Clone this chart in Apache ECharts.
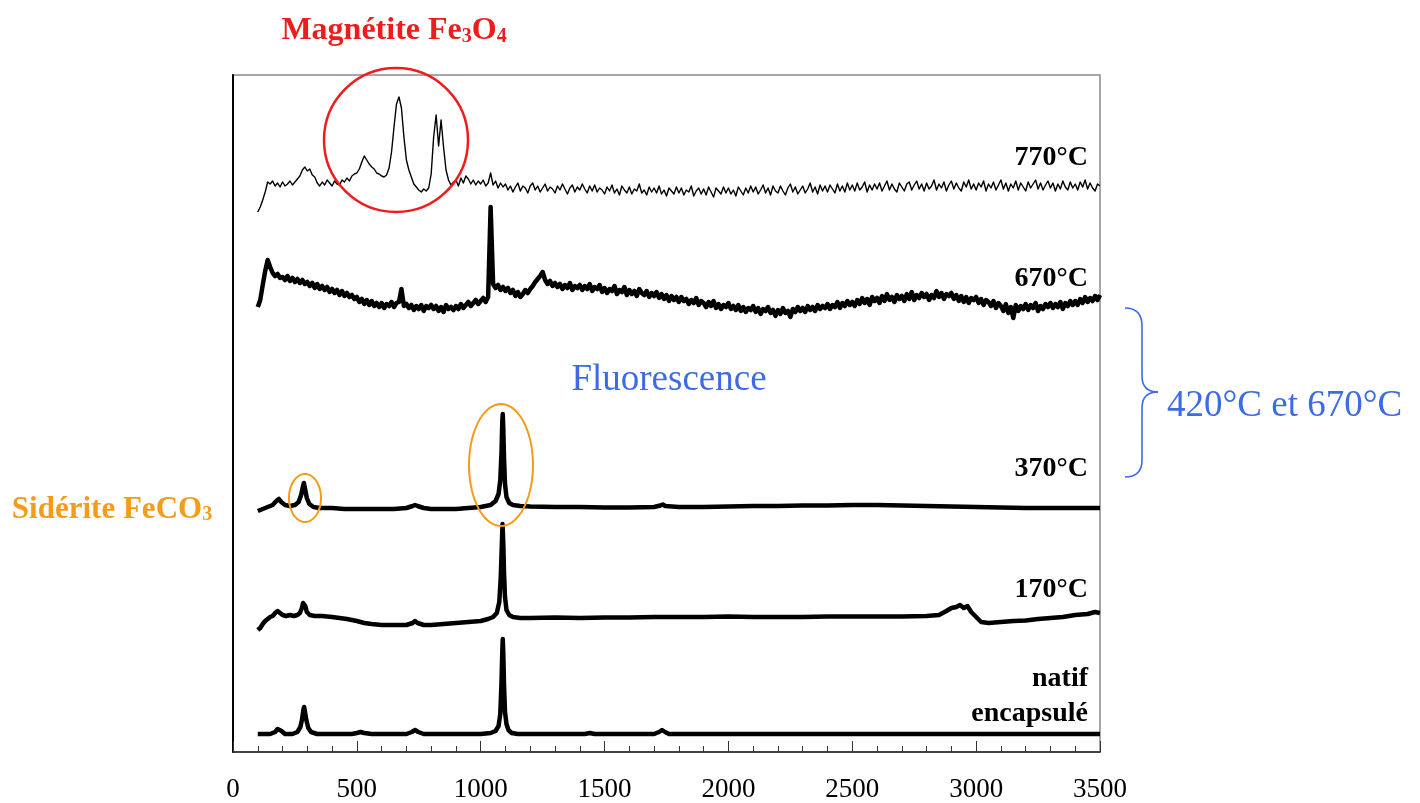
<!DOCTYPE html>
<html>
<head>
<meta charset="utf-8">
<script src="https://cdn.jsdelivr.net/npm/echarts@6/dist/echarts.min.js"></script>
<style>
html,body{margin:0;padding:0;background:#fff;}
#chart{width:1420px;height:803px;}
</style>
</head>
<body>
<div id="chart"></div>
<script>
// Raman shift axis (cm-1)
const xTicks = [0, 500, 1000, 1500, 2000, 2500, 3000, 3500];
const noisyStart = 100;   // first Raman shift of the noisy spectra
const noisyStep = 10;     // sampling step of the noisy spectra

// Stacked intensities (arbitrary units, offset per spectrum)
const spectrum770 = [
  540,545,552,560,570,568,571,566,569,565,
  570,566,568,571,567,570,573,576,582,585,
  581,583,577,575,569,566,570,567,572,569,
  566,571,568,567,572,570,574,571,576,578,
  579,583,590,596,592,588,585,583,579,578,
  576,575,577,584,600,625,648,655,644,615,
  592,582,575,568,565,562,560,563,561,564,
  578,615,637,606,632,605,582,572,567,570,
  572,566,574,569,576,573,568,572,567,571,
  568,572,566,569,579,567,571,564,569,565,
  568,562,566,560,565,569,561,566,564,559,
  566,569,562,566,560,564,568,561,565,563,
  559,566,562,568,563,558,564,567,560,565,
  562,568,563,559,566,561,567,560,564,562,
  558,565,561,567,559,563,557,566,562,559,
  565,558,563,561,568,559,562,557,565,560,
  564,559,566,558,562,556,564,561,558,565,
  559,564,557,562,560,566,556,561,564,558,
  563,557,565,560,555,564,561,558,565,559,
  564,558,562,556,565,561,557,564,559,566,
  560,565,558,562,567,559,564,557,566,561,
  559,566,561,557,564,568,560,565,558,562,
  566,559,563,569,560,565,558,567,561,566,
  560,567,563,559,568,561,566,560,569,562,
  567,561,569,562,565,570,560,567,562,568,
  563,569,561,566,571,562,568,563,560,569,
  565,561,568,570,562,567,571,563,568,561,
  569,563,566,572,562,568,564,570,561,567,
  571,563,569,564,561,570,565,572,563,568,
  562,569,565,571,561,568,564,570,562,567,
  572,563,569,561,568,564,571,562,569,565,
  561,570,564,568,572,563,569,562,567,571,
  564,569,561,568,563,571,565,562,570,564,
  568,562,570,565,572,563,569,564,561,568,
  566
];

const spectrum670 = [
  445,452,467,481,492,485,479,476,478,474,
  475,472,476,471,474,470,473,469,472,468,
  470,466,469,464,468,463,466,462,465,460,
  463,459,462,457,461,456,459,455,457,453,
  455,450,453,448,452,447,451,446,449,445,
  449,444,448,446,450,445,449,450,463,446,
  448,444,447,442,446,443,447,441,446,444,
  447,443,446,441,445,440,447,443,445,442,
  446,443,448,444,447,450,446,449,452,448,
  451,454,450,455,545,468,464,467,462,465,
  461,464,459,462,456,460,455,458,462,459,
  463,466,470,473,476,480,472,468,471,466,
  469,465,468,463,467,464,469,462,466,464,
  467,462,466,463,468,461,465,463,467,460,
  464,459,463,461,466,458,462,460,465,457,
  462,458,461,456,463,459,457,461,455,459,
  456,460,454,458,453,457,451,456,452,455,
  450,455,451,453,448,452,449,454,447,451,
  449,445,450,446,451,444,448,443,447,445,
  449,443,446,442,447,441,445,440,444,442,
  446,440,444,438,443,441,445,439,442,436,
  442,438,444,439,441,435,443,440,445,441,
  444,440,446,442,445,441,447,443,446,444,
  448,443,447,445,450,444,449,446,451,447,
  450,446,452,448,454,449,453,447,455,451,
  454,449,456,451,458,452,455,450,457,453,
  456,451,458,453,460,452,457,454,459,455,
  458,452,457,454,461,455,459,453,458,456,
  459,453,457,451,456,450,455,449,454,452,
  455,449,453,447,452,450,446,451,444,449,
  446,441,448,439,445,434,447,441,446,443,
  448,442,447,444,449,441,446,443,448,445,
  449,444,448,445,450,443,449,446,451,447,
  451,447,453,449,455,450,454,451,456,452,
  457
];

const spectrum370 = [
  [100,241],[120,243],[140,245],[160,247],[175,251],[185,253],[195,250],[210,247],[230,246],[250,247],
  [265,250],[275,257],[281,264],[286,269],[291,263],[298,254],[308,248],[325,245],[350,244],[400,244],
  [450,243],[500,243],[550,243],[600,243],[650,243],[700,244],[725,246],[735,247],[745,246],[770,244],
  [800,243],[850,243],[900,243],[950,244],[1000,245],[1040,247],[1060,251],[1072,258],[1079,272],[1084,300],
  [1087,330],[1089,338],[1091,325],[1094,295],[1098,268],[1104,255],[1115,249],[1130,247],[1160,246],[1200,245.5],
  [1300,245],[1400,245],[1500,244.5],[1600,244.5],[1700,245],[1725,246.5],[1735,247.5],[1745,246],[1800,245],[1900,245],
  [2000,245.5],[2100,246],[2200,246],[2300,246.5],[2400,246.5],[2500,247],[2600,247],[2700,246.5],[2800,246],[2900,245.5],
  [3000,245],[3100,244.5],[3200,244],[3300,244],[3400,244],[3500,244]
];

const spectrum170 = [
  [100,122],[110,124],[120,128],[130,131],[140,133],[150,135],[160,136],[170,139],[180,141],[190,139],
  [200,137],[215,136],[230,137],[245,136],[260,137],[270,139],[278,144],[283,149],[287,151],[292,146],
  [298,140],[310,137],[330,136],[360,136],[400,135],[430,134],[460,133],[500,131],[530,129],[560,128],
  [600,127],[650,127],[700,127],[725,129],[735,131],[745,129],[770,127],[800,127],[850,128],[900,129],
  [950,130],[1000,131],[1030,133],[1050,135],[1065,139],[1075,150],[1081,175],[1085,205],[1088,228],[1091,210],
  [1094,180],[1098,155],[1104,142],[1115,137],[1130,135],[1160,134],[1200,134],[1300,134.5],[1400,134],[1500,134.5],
  [1600,134.5],[1700,135],[1800,135],[1900,135],[2000,135.5],[2100,135],[2200,135],[2300,135],[2400,135.5],[2500,135.5],
  [2600,135.5],[2700,135.5],[2800,136],[2850,137],[2880,141],[2900,144],[2920,145],[2935,147],[2950,144],[2965,146],
  [2980,140],[3000,135],[3020,130],[3050,129],[3100,130],[3150,131],[3200,131.5],[3250,133],[3300,134],[3350,135],
  [3400,137],[3450,138],[3480,140],[3500,139]
];

const spectrumNatif = [
  [100,18],[150,18],[170,20],[180,23],[188,24],[196,21],[210,18],[240,18],[260,20],[272,25],
  [279,33],[284,42],[287,45],[290,41],[296,32],[304,24],[315,20],[340,18],[400,18],[480,18],
  [500,19],[515,20],[530,19],[560,18],[650,18],[700,18],[722,20],[735,22],[748,20],[770,18],
  [900,18],[1000,18],[1040,19],[1060,21],[1072,26],[1079,38],[1084,70],[1087,100],[1089,113],[1091,100],
  [1094,68],[1098,40],[1104,28],[1112,22],[1125,19],[1150,18],[1300,18],[1420,18],[1440,19],[1460,18],
  [1600,18],[1700,18],[1720,20],[1732,22],[1744,20],[1760,18],[2000,18],[2500,18],[3000,18],[3500,18]
];

const seriesNames = ['770°C', '670°C', '370°C', '170°C', 'natif encapsulé'];

function toPairs(values) {
  return values.map((v, i) => [noisyStart + noisyStep * i, v]);
}

const FONT = 'Liberation Serif';
const BLUE = '#3d6be6';
const ORANGE = '#f59b1a';
const RED = '#ee1d1d';

function ellipsePoints(cx, cy, rx, ry) {
  const pts = [];
  for (let k = 0; k < 72; k++) {
    const a = k / 72 * Math.PI * 2;
    pts.push([cx + rx * Math.cos(a), cy + ry * Math.sin(a)]);
  }
  return pts;
}

function lineSeries(name, data, width) {
  return {
    name: name, type: 'line', data: data, showSymbol: false, symbol: 'none',
    lineStyle: {color: '#000', width: width, join: 'round'}, silent: true, z: 3
  };
}

function label(text, y) {
  return {type: 'text', x: 1088, y: y, style: {text: text, fill: '#000', font: 'bold 28px "Liberation Serif"', textAlign: 'right', textVerticalAlign: 'middle'}};
}

const chart = echarts.init(document.getElementById('chart'), null, {renderer: 'canvas'});
chart.setOption({
  animation: false,
  backgroundColor: '#fff',
  grid: {left: 233, top: 75, width: 867, height: 677, show: true, borderColor: '#8a8a8a', borderWidth: 1.5, backgroundColor: 'transparent'},
  xAxis: {
    type: 'value', min: xTicks[0], max: xTicks[xTicks.length - 1], interval: 500,
    axisLine: {show: true, onZero: false, lineStyle: {color: '#222', width: 1.5}},
    axisTick: {show: true, inside: true, length: 11, lineStyle: {color: '#333', width: 1}},
    minorTick: {show: true, splitNumber: 5, length: 6, lineStyle: {color: '#333', width: 1}},
    splitLine: {show: false},
    axisLabel: {color: '#000', fontFamily: FONT, fontSize: 27, margin: 24, formatter: v => String(v)}
  },
  yAxis: {
    type: 'value', min: 0, max: 677,
    axisLine: {show: true, lineStyle: {color: '#000', width: 2}},
    axisTick: {show: false}, axisLabel: {show: false}, splitLine: {show: false}
  },
  series: [
    lineSeries(seriesNames[0], toPairs(spectrum770), 1.4),
    lineSeries(seriesNames[1], toPairs(spectrum670), 4.5),
    lineSeries(seriesNames[2], spectrum370, 4.5),
    lineSeries(seriesNames[3], spectrum170, 4.5),
    lineSeries(seriesNames[4], spectrumNatif, 4.5)
  ],
  graphic: [
    {type: 'circle', shape: {cx: 396, cy: 140, r: 72}, style: {fill: 'none', stroke: RED, lineWidth: 2.5}, z: 10},
    {type: 'polygon', shape: {points: ellipsePoints(305, 498, 16, 24)}, style: {fill: 'none', stroke: ORANGE, lineWidth: 2}, z: 10},
    {type: 'polygon', shape: {points: ellipsePoints(501, 465, 32, 61)}, style: {fill: 'none', stroke: ORANGE, lineWidth: 2}, z: 10},
    {type: 'bezierCurve', shape: {x1: 1125, y1: 308, cpx1: 1142, cpy1: 308, x2: 1142, y2: 326}, style: {fill: 'none', stroke: BLUE, lineWidth: 1.6}},
    {type: 'line', shape: {x1: 1142, y1: 326, x2: 1142, y2: 376}, style: {stroke: BLUE, lineWidth: 1.6}},
    {type: 'bezierCurve', shape: {x1: 1142, y1: 376, cpx1: 1142, cpy1: 392, x2: 1158, y2: 392}, style: {fill: 'none', stroke: BLUE, lineWidth: 1.6}},
    {type: 'bezierCurve', shape: {x1: 1158, y1: 392, cpx1: 1142, cpy1: 392, x2: 1142, y2: 408}, style: {fill: 'none', stroke: BLUE, lineWidth: 1.6}},
    {type: 'line', shape: {x1: 1142, y1: 408, x2: 1142, y2: 460}, style: {stroke: BLUE, lineWidth: 1.6}},
    {type: 'bezierCurve', shape: {x1: 1142, y1: 460, cpx1: 1142, cpy1: 477, x2: 1125, y2: 477}, style: {fill: 'none', stroke: BLUE, lineWidth: 1.6}},
    {type: 'text', x: 1167, y: 406, style: {text: '420°C et 670°C', fill: BLUE, font: '37px "Liberation Serif"', textAlign: 'left', textVerticalAlign: 'middle'}},
    {type: 'text', x: 669, y: 380, style: {text: 'Fluorescence', fill: BLUE, font: '37px "Liberation Serif"', textAlign: 'center', textVerticalAlign: 'middle'}},
    {type: 'text', x: 394, y: 28, style: {
      text: '{a|Magnétite Fe}{s|3}{a|O}{s|4}', textAlign: 'center', textVerticalAlign: 'middle',
      rich: {
        a: {fill: RED, fontFamily: FONT, fontWeight: 'bold', fontSize: 32, lineHeight: 38, verticalAlign: 'bottom'},
        s: {fill: RED, fontFamily: FONT, fontWeight: 'bold', fontSize: 20, lineHeight: 18, verticalAlign: 'bottom'}
      }}},
    {type: 'text', x: 112, y: 507, style: {
      text: '{a|Sidérite FeCO}{s|3}', textAlign: 'center', textVerticalAlign: 'middle',
      rich: {
        a: {fill: ORANGE, fontFamily: FONT, fontWeight: 'bold', fontSize: 31, lineHeight: 36, verticalAlign: 'bottom'},
        s: {fill: ORANGE, fontFamily: FONT, fontWeight: 'bold', fontSize: 20, lineHeight: 17, verticalAlign: 'bottom'}
      }}},
    label('770°C', 158),
    label('670°C', 279),
    label('370°C', 469),
    label('170°C', 590),
    label('natif', 679),
    label('encapsulé', 714)
  ]
});
</script>
</body>
</html>
